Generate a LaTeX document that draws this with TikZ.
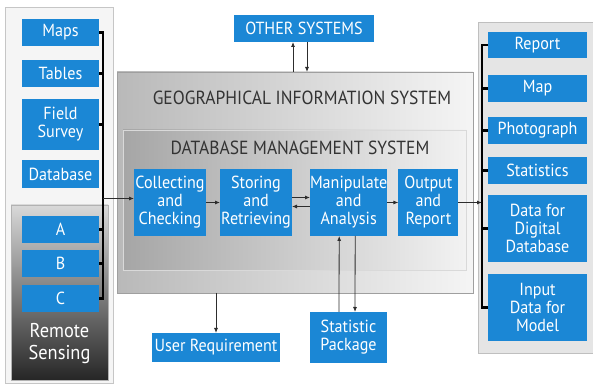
\documentclass[tikz,border=0pt]{standalone}
\usepackage{fontspec}
\setmainfont{PT Sans}[FakeStretch=0.92]
\usetikzlibrary{arrows.meta, positioning}
\definecolor{gisblue}{RGB}{27,135,213}
\definecolor{linegray}{RGB}{45,45,45}

\begin{document}
\begin{tikzpicture}[x=1pt, y=1pt, >={Latex[length=5pt,width=4pt]},
                    blk/.style={fill=gisblue, text=white, align=center,
                                font=\fontsize{17.5}{18}\selectfont,
                                inner sep=0pt, outer sep=0pt,
                                minimum width=77pt, minimum height=27pt},
                    panel/.style={inner sep=0pt, outer sep=0pt},
                    title/.style={text=black!80, font=\fontsize{19}{20}\selectfont},
                    bus/.style={line width=2.2pt, black},
                    line/.style={line width=0.8pt, linegray}]

\useasboundingbox (0,0) rectangle (593,387);

% Panels
\node[panel, draw=gray!45, fill=gray!8, minimum width=108pt, minimum height=376pt] (inpanel) at (59,192) {};
\node[panel, draw=gray!60, top color=gray!30, bottom color=black!85, minimum width=97pt, minimum height=175pt] (rspanel) at (59.5,94.5) {};
\node[panel, draw=gray!50, fill=gray!20, minimum width=117pt, minimum height=331pt] (outpanel) at (536.5,199.5) {};

\node[panel, draw=gray!75, left color=gray!55, right color=gray!8, minimum width=356pt, minimum height=221pt] (gis) at (295,204.5) {};
\node[panel, draw=gray!30, left color=gray!70, right color=gray!10, minimum width=343pt, minimum height=140pt] (dbms) at (294.5,187) {};

\node[title] (gistitle) at (302,289) {GEOGRAPHICAL INFORMATION SYSTEM};
\node[title] (dbmstitle) at (300,239) {DATABASE MANAGEMENT SYSTEM};

% Inputs
\node[blk] (maps) at (60.5,354.5) {Maps};
\node[blk, below=14pt of maps] (tables) {Tables};
\node[blk, below=12pt of tables, minimum height=51pt] (field) {Field\\Survey};
\node[blk, below=10pt of field, minimum height=28pt] (database) {Database};

\node[blk] (a) at (60.5,157.5) {A};
\node[blk, below=7pt of a] (b) {B};
\node[blk, below=8pt of b] (c) {C};
\node[text=white, align=center, font=\fontsize{20}{22}\selectfont] (rs) at (59.5,43) {Remote\\Sensing};

% Processes
\node[blk, minimum width=72pt, minimum height=67pt] (collect) at (170,184.5) {Collecting\\and\\Checking};
\node[blk, right=14pt of collect, minimum width=72pt, minimum height=67pt] (store) {Storing\\and\\Retrieving};
\node[blk, right=18pt of store, minimum height=67pt] (manip) {Manipulate\\and\\Analysis};
\node[blk, right=11pt of manip, minimum width=60pt, minimum height=67pt] (output) {Output\\and\\Report};

\node[blk, minimum width=140pt] (other) at (304,358.5) {OTHER SYSTEMS};
\node[blk, minimum width=128pt, minimum height=29pt] (user) at (216,39.5) {User Requirement};
\node[blk, minimum height=51pt] (stat) at (348.5,49.5) {Statistic\\Package};

% Outputs
\node[blk, minimum width=99pt, minimum height=26pt] (report) at (537.5,342) {Report};
\node[blk, below=17pt of report, minimum width=99pt] (map) {Map};
\node[blk, below=15pt of map, minimum width=99pt] (photo) {Photograph};
\node[blk, below=13pt of photo, minimum width=99pt] (stats) {Statistics};
\node[blk, below=11pt of stats, minimum width=99pt, minimum height=67pt] (digital) {Data for\\Digital\\Database};
\node[blk, below=12pt of digital, minimum width=99pt, minimum height=67pt] (model) {Input\\Data for\\Model};

% Connections
\draw[bus] (maps.east) -- ++(4,0) coordinate (lbus) |- (c.east);
\foreach \n in {tables, field, a, b}
  \draw[bus] (\n.east) -- (\n.east -| lbus);
\draw[line, ->] ([yshift=4pt]collect.west -| lbus) -- ([yshift=4pt]collect.west);

\draw[line, ->] (collect) -- (store);
\draw[line, ->] ([yshift=5pt]store.east) -- ([yshift=5pt]manip.west);
\draw[line, <-] ([yshift=-4pt]store.east) -- ([yshift=-4pt]manip.west);
\draw[line, ->] (manip) -- (output);

\draw[bus] (report.west) -- ++(-6,0) coordinate (rbus) |- (model.west);
\foreach \n in {map, photo, stats, digital}
  \draw[bus] (\n.west) -- (\n.west -| rbus);
\draw[line, ->] (output.east) -- (output.east -| rbus);

\draw[line, ->, transform canvas={xshift=-11pt}] (gis.north -| other) -- (other.south);
\draw[line, ->, transform canvas={xshift=3pt}] (other.south) -- (gis.north -| other);

\draw[line, ->] (gis.south -| user) -- (user.north);

\draw[line, ->, transform canvas={xshift=-9.5pt}] (stat.north) -- (manip.south);
\draw[line, ->, transform canvas={xshift=6.5pt}] (manip.south) -- (stat.north);

\end{tikzpicture}
\end{document}
